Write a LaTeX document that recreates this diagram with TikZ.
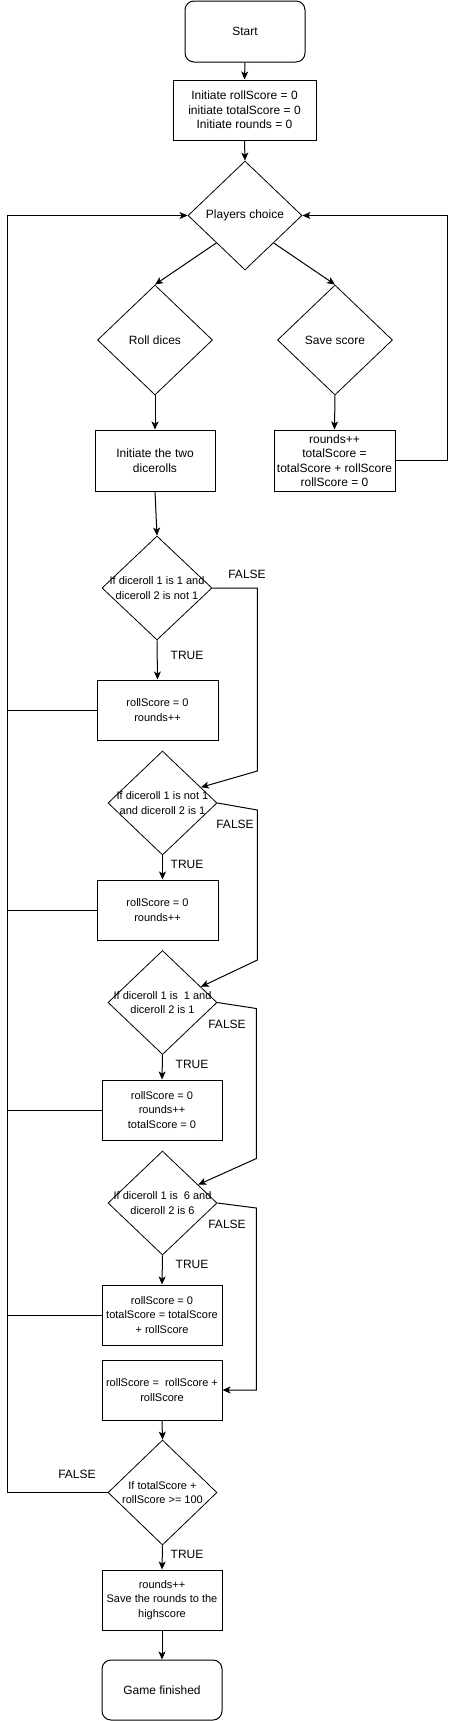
\documentclass[tikz,border=0pt]{standalone}
\usepackage{fontspec}
\setmainfont{Liberation Sans}
\usetikzlibrary{shapes.geometric,arrows.meta,calc}

\tikzset{
  terminal/.style={draw, rounded corners=9pt, minimum width=120pt, minimum height=60pt,
    inner sep=0pt, align=center, font=\fontsize{12}{14.5}\selectfont},
  process/.style={draw, minimum width=120pt, minimum height=60pt, inner sep=0pt,
    align=center, font=\fontsize{11}{14.5}\selectfont},
  bigprocess/.style={process, font=\fontsize{12}{14.5}\selectfont},
  decision/.style={draw, diamond, line width=0.8pt, minimum width=109pt, minimum height=104pt, inner sep=0pt},
  dtext/.style={align=center, inner sep=0pt, font=\fontsize{11}{14.5}\selectfont},
  bigdtext/.style={dtext, font=\fontsize{12}{14.5}\selectfont},
  answer/.style={inner sep=0pt, font=\fontsize{12}{14}\selectfont},
  arrow/.style={-{Stealth[length=8pt,width=7pt,inset=2pt]}},
}

\begin{document}
\begin{tikzpicture}[x=1pt, y=-1pt, line width=1pt]
  \useasboundingbox (0,0) rectangle (456,1721);

  % start and player choice
  \node[terminal, minimum height=61pt] (start) at (245,31.5) {Start};
  \node[bigprocess, minimum width=143pt] (init) at (244.5,110)
    {Initiate rollScore = 0\\initiate totalScore = 0\\Initiate rounds = 0};
  \node[decision, minimum width=114pt, minimum height=109pt,
    label={[bigdtext]center:Players choice}] (choice) at (245,215.5) {};
  \node[decision, minimum width=115pt, minimum height=110pt,
    label={[bigdtext]center:Roll dices}] (roll) at (155,340) {};
  \node[decision, minimum width=115pt, minimum height=110pt,
    label={[bigdtext]center:Save score}] (save) at (335,340) {};
  \node[bigprocess, minimum height=61pt] (rollinit) at (155,460.5) {Initiate the two\\dicerolls};
  \node[bigprocess, minimum width=121pt, minimum height=61pt] (savebox) at (334.5,460.5)
    {rounds++\\totalScore =\\totalScore + rollScore\\rollScore = 0};

  % dice checks
  \node[decision, minimum width=110pt,
    label={[dtext]center:If diceroll 1 is 1 and\\diceroll 2 is not 1}] (c1) at (157,588) {};
  \node[process, minimum width=121pt] (b1) at (157.5,710) {rollScore = 0\\rounds++};
  \node[decision,
    label={[dtext]center:If diceroll 1 is not 1\\and diceroll 2 is 1}] (c2) at (162.5,803) {};
  \node[process, minimum width=121pt] (b2) at (157.5,910) {rollScore = 0\\rounds++};
  \node[decision,
    label={[dtext]center:If diceroll 1 is\ \ 1 and\\diceroll 2 is 1}] (c3) at (162.5,1002.5) {};
  \node[process] (b3) at (162,1110) {rollScore = 0\\rounds++\\totalScore = 0};
  \node[decision,
    label={[dtext]center:If diceroll 1 is\ \ 6 and\\diceroll 2 is 6}] (c4) at (162.5,1203) {};
  \node[process] (b4) at (162,1315) {rollScore = 0\\totalScore = totalScore\\+ rollScore};
  \node[process] (b5) at (162,1390) {rollScore =\ \ rollScore +\\rollScore};

  % end check
  \node[decision, minimum height=105pt,
    label={[dtext]center:If totalScore +\\rollScore >= 100}] (c5) at (162.5,1492.5) {};
  \node[process] (b6) at (162,1600) {rounds++\\Save the rounds to the\\highscore};
  \node[terminal] (finish) at (162,1690) {Game finished};

  \coordinate (rail) at (7,215.5);
  \coordinate (rrail) at (447,215.5);

  % connectors
  \draw[arrow] (start.south) -- (init.north);
  \draw[arrow] (init.south) -- (choice.north);
  \draw[arrow] (choice.south west) -- (roll.north);
  \draw[arrow] (choice.south east) -- (save.north);
  \draw[arrow] (roll.south) -- (rollinit.north);
  \draw[arrow] (save.south) -- (savebox.north);
  \draw[arrow] (savebox.east) -| (rrail) -- (choice.east);
  \draw[arrow] (rollinit.south) -- (c1.north);

  \draw[arrow] (c1.south) -- (b1.north);
  \draw[arrow] (c1.east) -- ++(45,0) -- ++(0,183) -- ($(c2.north)!.7!(c2.east)$);
  \draw[arrow] (c2.south) -- (c2.south |- b2.north);
  \draw[arrow] (c2.east) -- ++(40,7) -- ++(0,150) -- ($(c3.north)!.7!(c3.east)$);
  \draw[arrow] (c3.south) -- (b3.north);
  \draw[arrow] (c3.east) -- ++(39,6) -- ++(0,150) -- ($(c4.north)!.65!(c4.east)$);
  \draw[arrow] (c4.south) -- (b4.north);
  \draw[arrow] (c4.east) -- ++(39,5) |- (b5.east);
  \draw[arrow] (b5.south) -- (c5.north);
  \draw[arrow] (c5.south) -- (b6.north);
  \draw[arrow] (b6.south) -- (finish.north);

  % back to players choice
  \draw[arrow] (c5.west) -| (rail) -- (choice.west);
  \draw (b1.west) -- (b1.west -| rail);
  \draw (b2.west) -- (b2.west -| rail);
  \draw (b3.west) -- (b3.west -| rail);
  \draw (b4.west) -- (b4.west -| rail);

  % TRUE / FALSE
  \node[answer] (f1) at (247,574) {FALSE};
  \node[answer] (t1) at (187,655) {TRUE};
  \node[answer] (f2) at (235,824) {FALSE};
  \node[answer] (t2) at (187,864) {TRUE};
  \node[answer] (f3) at (227,1024) {FALSE};
  \node[answer] (t3) at (192,1064) {TRUE};
  \node[answer] (f4) at (227,1224) {FALSE};
  \node[answer] (t4) at (192,1264) {TRUE};
  \node[answer] (f5) at (77,1474) {FALSE};
  \node[answer] (t5) at (187,1554) {TRUE};
\end{tikzpicture}
\end{document}
